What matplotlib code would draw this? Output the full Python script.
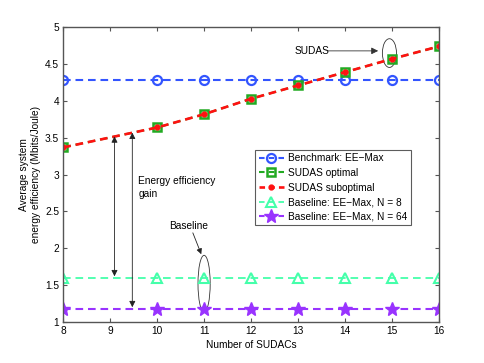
import matplotlib
matplotlib.use("Agg")
import matplotlib.pyplot as plt
from matplotlib.patches import Ellipse

plt.rcParams['font.family'] = ['Liberation Sans', 'DejaVu Sans']
plt.rcParams['lines.scale_dashes'] = False

x_sudacs = [8, 10, 11, 12, 13, 14, 15, 16]
benchmark = [4.28, 4.28, 4.28, 4.28, 4.28, 4.28, 4.28, 4.28]
sudas_opt = [3.37, 3.64, 3.82, 4.03, 4.21, 4.39, 4.57, 4.74]
sudas_sub = [3.37, 3.64, 3.82, 4.03, 4.21, 4.39, 4.57, 4.74]
base_n8 = [1.60, 1.60, 1.60, 1.60, 1.60, 1.60, 1.60, 1.60]
base_n64 = [1.18, 1.18, 1.18, 1.18, 1.18, 1.18, 1.18, 1.18]
labels = ["Benchmark: EE\u2212Max", "SUDAS optimal", "SUDAS suboptimal",
          "Baseline: EE\u2212Max, N = 8", "Baseline: EE\u2212Max, N = 64"]

FS = 7.3
DASH = (5.5, 3.5)
fig = plt.figure(figsize=(4.85, 3.63), dpi=100)
ax = fig.add_axes([0.1306, 0.113, 0.7739, 0.8118])

ax.plot(x_sudacs, benchmark, color='#3355ff', lw=1.5, dashes=DASH, marker='o', ms=6.5,
        mfc='none', mec='#3355ff', mew=1.6, label=labels[0])
ax.plot(x_sudacs, sudas_opt, color='#22aa22', lw=1.5, dashes=DASH, marker='s', ms=5.5,
        mfc='none', mec='#22aa22', mew=1.8, label=labels[1])
ax.plot(x_sudacs, sudas_sub, color='#ff1111', lw=1.9, dashes=DASH, marker='.', ms=7,
        mfc='#ff1111', mec='#ff1111', label=labels[2])
ax.plot(x_sudacs, base_n8, color='#44ffaa', lw=1.3, dashes=DASH, marker='^', ms=7.5,
        mfc='none', mec='#44ffaa', mew=1.5, label=labels[3])
ax.plot(x_sudacs, base_n64, color='#9933ff', lw=1.5, dashes=DASH, marker='*', ms=10,
        mfc='#9933ff', mec='#9933ff', label=labels[4])

ax.set_xlim(8, 16)
ax.set_ylim(1, 5)
ax.set_xticks(range(8, 17))
ax.set_yticks([1, 1.5, 2, 2.5, 3, 3.5, 4, 4.5, 5])
ax.set_yticklabels(['1', '1.5', '2', '2.5', '3', '3.5', '4', '4.5', '5'])
ax.tick_params(direction='in', top=True, right=True, labelsize=FS, length=3,
               color='#555555', pad=3)
for s in ax.spines.values():
    s.set_color('#555555')
    s.set_linewidth(1.0)
ax.set_xlabel('Number of SUDACs', fontsize=FS, labelpad=3)
ax.set_ylabel('Average system\nenergy efficiency (Mbits/Joule)', fontsize=FS,
              labelpad=3)

leg = ax.legend(loc='upper left', bbox_to_anchor=(0.511, 0.584), fontsize=FS,
                frameon=True, fancybox=False, edgecolor='#333333',
                borderpad=0.35, labelspacing=0.45, handlelength=2.5,
                handletextpad=0.4, borderaxespad=0)
leg.get_frame().set_linewidth(0.8)
for h in leg.legend_handles:
    h.set_dashes((4, 3))

# SUDAS annotation
ax.annotate('', xy=(14.71, 4.68), xytext=(13.64, 4.68),
            arrowprops=dict(arrowstyle='-|>', color='#333333', lw=0.6,
                            mutation_scale=10, shrinkA=0, shrinkB=0))
ax.text(12.92, 4.68, 'SUDAS', fontsize=FS, va='center', ha='left')
ax.add_patch(Ellipse((14.95, 4.65), 0.30, 0.39, fill=False, ec='#333333', lw=0.6))

# Energy efficiency gain arrows
ax.annotate('', xy=(9.09, 3.52), xytext=(9.09, 1.62),
            arrowprops=dict(arrowstyle='<|-|>', color='#222222', lw=0.6,
                            mutation_scale=9, shrinkA=0, shrinkB=0))
ax.annotate('', xy=(9.47, 3.57), xytext=(9.47, 1.20),
            arrowprops=dict(arrowstyle='<|-|>', color='#222222', lw=0.6,
                            mutation_scale=9, shrinkA=0, shrinkB=0))
ax.text(9.6, 2.98, 'Energy efficiency\ngain', fontsize=FS, va='top', ha='left',
        linespacing=1.4)

# Baseline annotation
ax.text(10.68, 2.30, 'Baseline', fontsize=FS, va='center', ha='center')
ax.annotate('', xy=(10.94, 1.92), xytext=(10.76, 2.21),
            arrowprops=dict(arrowstyle='-|>', color='#222222', lw=0.6,
                            mutation_scale=8, shrinkA=0, shrinkB=0))
ax.add_patch(Ellipse((11.0, 1.52), 0.26, 0.77, fill=False, ec='#333333', lw=0.6))

fig.savefig('out.png', dpi=100)
